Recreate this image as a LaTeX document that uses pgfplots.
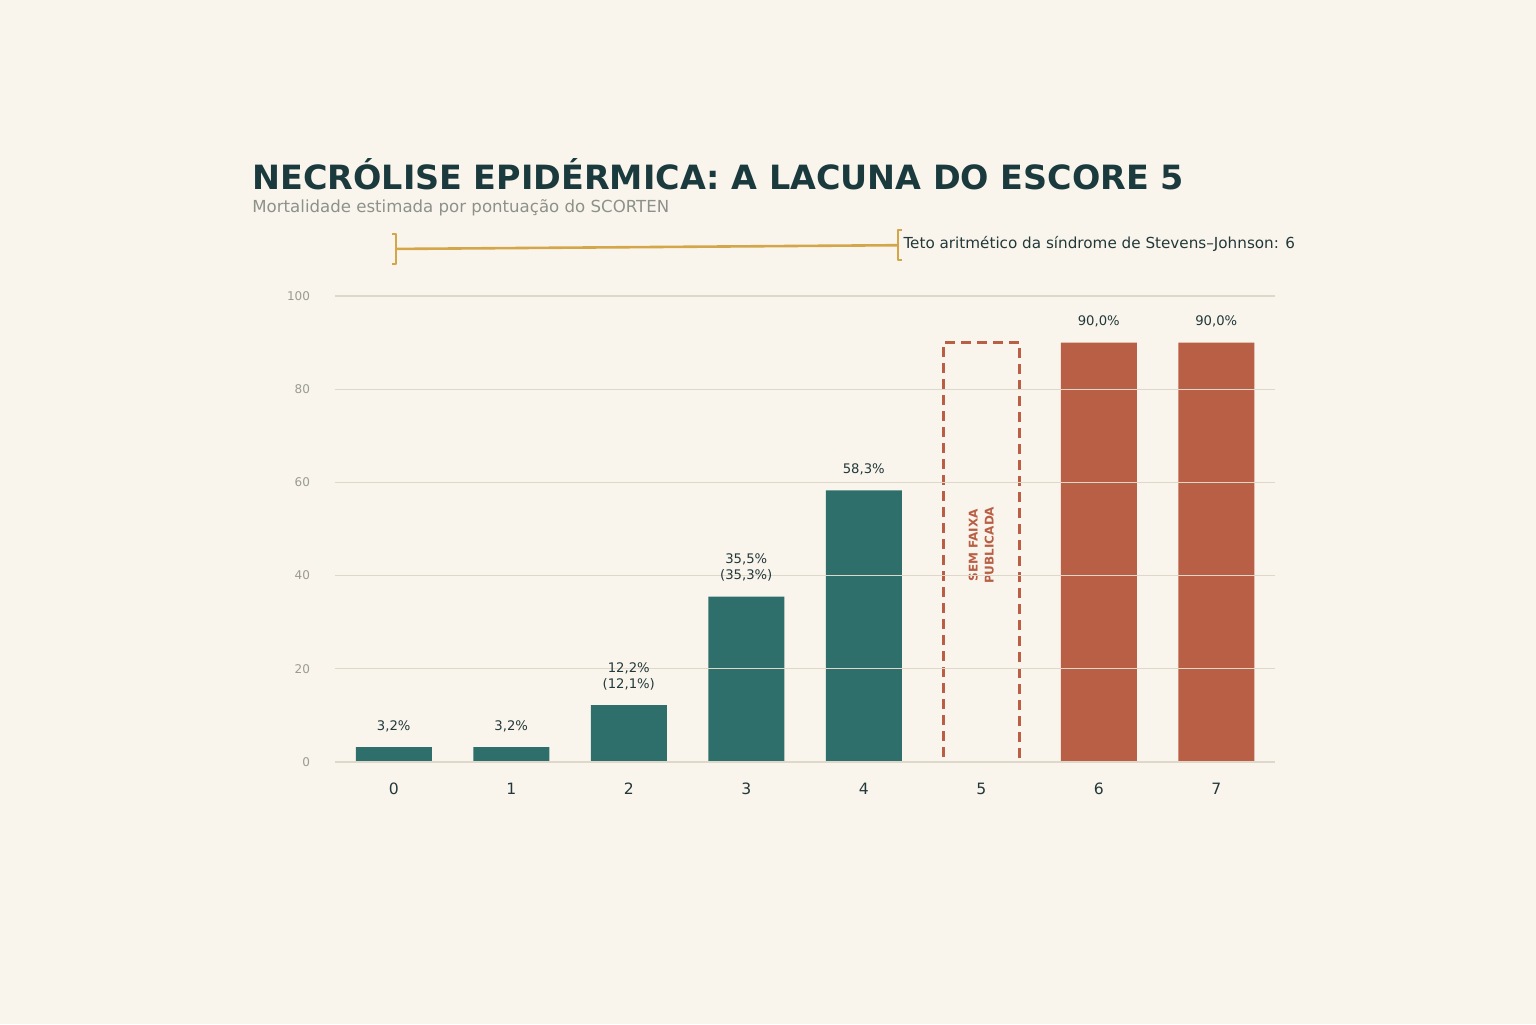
\documentclass[border=0pt]{standalone}
\usepackage{fontspec}
\setmainfont{DejaVu Sans}
\usepackage{pgfplots}
\pgfplotsset{compat=1.18}

\definecolor{bg}{HTML}{FAF5EC}
\definecolor{titlec}{HTML}{1B3A3D}
\definecolor{subc}{HTML}{8C918A}
\definecolor{tickc}{HTML}{9A9C90}
\definecolor{labc}{HTML}{22383A}
\definecolor{gridc}{HTML}{DDD8CA}
\definecolor{teal}{HTML}{2E6F6C}
\definecolor{rust}{HTML}{B85F45}
\definecolor{gold}{HTML}{D4A64A}

\begin{document}
\begin{tikzpicture}
% page = 1536 x 1024 px, 1 px = 0.5pt
\fill[bg] (0,0) rectangle (768pt,512pt);
\node[anchor=base west, inner sep=0, text=titlec,
      font=\bfseries\fontsize{16.7}{18}\selectfont] at (126pt,417pt)
  {NECRÓLISE EPIDÉRMICA: A LACUNA DO ESCORE 5};
\node[anchor=base west, inner sep=0, text=subc,
      font=\fontsize{8.3}{10}\selectfont] at (126pt,405.5pt)
  {Mortalidade estimada por pontuação do SCORTEN};

\begin{axis}[
    at={(167.5pt,131pt)}, anchor=south west,
    scale only axis, width=470pt, height=233pt,
    xmin=-0.5, xmax=7.5, ymin=0, ymax=100,
    clip=false,
    axis line style={draw=none},
    tick style={draw=none},
    ymajorgrids=true,
    grid style={gridc, line width=0.6pt},
    axis on top,
    ytick={0,20,40,60,80,100},
    xtick={0,1,2,3,4,5,6,7},
    xticklabels={0,1,2,3,4,5,6,7},
    /pgf/number format/assume math mode=true,
    yticklabel style={font=\fontsize{6}{7}\selectfont, text=tickc, xshift=-9pt},
    xticklabel style={font=\fontsize{7.8}{9}\selectfont, text=labc, yshift=-7pt},
    bar width=38pt, bar shift=0pt,
    point meta=explicit symbolic,
    every node near coord/.style={font=\fontsize{6.6}{7.8}\selectfont, text=labc,
        align=center, anchor=south, inner sep=0pt, yshift=7.5pt},
]
% SCORTEN 0-4
\addplot[ybar, draw=none, fill=teal, nodes near coords] coordinates {
    (0,3.2)  [3,2\%]
    (1,3.2)  [3,2\%]
    (2,12.2) [{12,2\%\\(12,1\%)}]
    (3,35.5) [{35,5\%\\(35,3\%)}]
    (4,58.3) [58,3\%]
};
% SCORTEN 6-7
\addplot[ybar, draw=none, fill=rust, nodes near coords] coordinates {
    (6,90) [90,0\%]
    (7,90) [90,0\%]
};
% SCORTEN 5: no published band
\addplot[ybar, draw=rust, fill=none, line width=1.4pt, dash pattern=on 5pt off 3pt]
    coordinates {(5,90)};
\node[rotate=90, align=center, text=rust, inner sep=0,
      font=\bfseries\fontsize{6}{8}\selectfont] at (axis cs:5,46.5)
  {SEM FAIXA\\PUBLICADA};

% Bracket: SJS arithmetic ceiling
\addplot[sharp plot, draw=gold, line width=1.3pt, no marks]
    coordinates {(0.02,110.1) (4.29,110.9)};
\addplot[sharp plot, draw=gold, line width=1.3pt, no marks, line join=round]
    coordinates {(-0.015,113.3) (0.02,113.3) (0.02,106.9) (-0.015,106.9)};
\addplot[sharp plot, draw=gold, line width=1.3pt, no marks, line join=round]
    coordinates {(4.325,114.2) (4.29,114.2) (4.29,107.7) (4.325,107.7)};
\node[anchor=west, inner sep=0, text=labc, font=\fontsize{7.6}{9}\selectfont]
  at (axis cs:4.335,111.2) {Teto aritmético da síndrome de Stevens–Johnson: 6};
\end{axis}
\end{tikzpicture}
\end{document}
